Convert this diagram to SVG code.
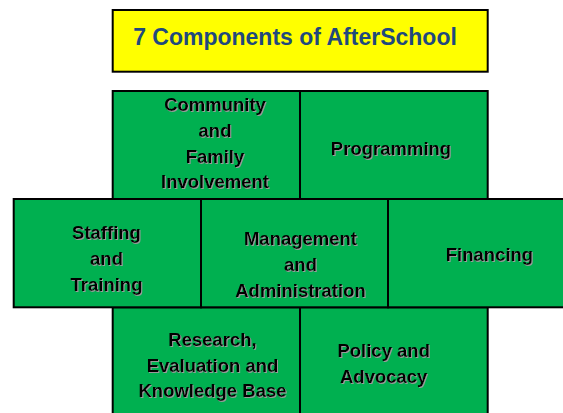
<svg xmlns="http://www.w3.org/2000/svg" width="563" height="413" viewBox="0 0 563 413">
<defs>
<style>
.cell{fill:#00B050;stroke:#000;stroke-width:2}
.title{fill:#FFFF00;stroke:#000;stroke-width:2}
.lbl{font-family:"Liberation Sans",Arial,sans-serif;font-weight:bold;font-size:18.5px;fill:#000;text-anchor:middle;filter:url(#shadow)}
.ttl{font-family:"Liberation Sans",Arial,sans-serif;font-weight:bold;font-size:23px;fill:#1F497D;text-anchor:middle}
</style>
<filter id="shadow" x="-10%" y="-20%" width="120%" height="150%">
<feOffset in="SourceAlpha" dx="1.2" dy="1.2" result="off"/>
<feFlood flood-color="#9a9a9a"/>
<feComposite in2="off" operator="in" result="sh"/>
<feMerge><feMergeNode in="sh"/><feMergeNode in="SourceGraphic"/></feMerge>
</filter>
</defs>
<rect width="563" height="413" fill="#fff"/>
<g id="title">
<rect class="title" x="112.7" y="10" width="375" height="61.7"/>
<text class="ttl" x="295" y="45">7 Components of AfterSchool</text>
</g>
<g id="community">
<rect class="cell" x="112.7" y="91" width="187.3" height="108"/>
<text class="lbl" x="215" y="111">Community</text>
<text class="lbl" x="215" y="137">and</text>
<text class="lbl" x="215" y="163">Family</text>
<text class="lbl" x="215" y="188">Involvement</text>
</g>
<g id="programming">
<rect class="cell" x="300" y="91" width="187.7" height="108"/>
<text class="lbl" x="391" y="155">Programming</text>
</g>
<g id="research">
<rect class="cell" x="112.7" y="307.3" width="187.3" height="120"/>
<text class="lbl" x="212.5" y="345.5">Research,</text>
<text class="lbl" x="212.5" y="371.5">Evaluation and</text>
<text class="lbl" x="212.5" y="396.7">Knowledge Base</text>
</g>
<g id="policy">
<rect class="cell" x="300" y="307.3" width="187.7" height="120"/>
<text class="lbl" x="383.7" y="356.5">Policy and</text>
<text class="lbl" x="383.7" y="382.5">Advocacy</text>
</g>
<g id="staffing">
<rect class="cell" x="13.7" y="199" width="187.3" height="108.3"/>
<text class="lbl" x="106.5" y="239.3">Staffing</text>
<text class="lbl" x="106.5" y="264.7">and</text>
<text class="lbl" x="106.5" y="290.5">Training</text>
</g>
<g id="management">
<rect class="cell" x="201" y="199" width="187" height="108.3"/>
<text class="lbl" x="300.5" y="245">Management</text>
<text class="lbl" x="300.5" y="271">and</text>
<text class="lbl" x="300.5" y="296.5">Administration</text>
</g>
<g id="financing">
<rect class="cell" x="388" y="199" width="200" height="108.3"/>
<text class="lbl" x="489.5" y="260.7">Financing</text>
</g>
<g id="connectors"></g>
</svg>
